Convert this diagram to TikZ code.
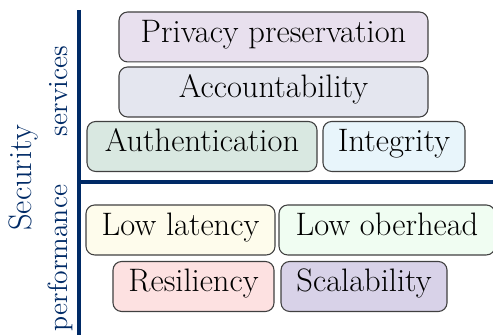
\documentclass[tikz,border=0pt]{standalone}
\definecolor{navy}{RGB}{0,42,102}
\definecolor{privfill}{RGB}{232,224,238}
\definecolor{accfill}{RGB}{228,230,239}
\definecolor{authfill}{RGB}{217,232,225}
\definecolor{intfill}{RGB}{232,245,251}
\definecolor{latfill}{RGB}{254,252,236}
\definecolor{ovfill}{RGB}{240,253,242}
\definecolor{resfill}{RGB}{253,225,225}
\definecolor{scalfill}{RGB}{216,210,232}
\begin{document}
\begin{tikzpicture}[
    item/.style={draw=black!75, line width=0.5pt, rounded corners=4pt, inner sep=0pt,
      minimum height=0.811cm, text height=0.72em, text depth=0.22em,
      font=\fontsize{15}{18}\selectfont},
    axis/.style={draw=navy, line width=1.5pt},
    side/.style={text=navy, rotate=90, inner sep=0pt}
  ]
    \useasboundingbox (0,0) rectangle (8,5.436);
    \node[item, fill=privfill, minimum width=5.014cm] (priv) at (4.438,4.836) {Privacy preservation};
    \node[item, fill=accfill, minimum width=5.014cm] (acc) at (4.438,3.943) {Accountability};
    \node[item, fill=authfill, minimum width=3.732cm] (auth) at (3.278,3.059) {Authentication};
    \node[item, fill=intfill, minimum width=2.304cm] (integ) at (6.393,3.059) {Integrity};
    \node[item, fill=latfill, minimum width=3.067cm] (lat) at (2.929,1.704) {Low latency};
    \node[item, fill=ovfill, minimum width=3.505cm] (over) at (6.280,1.704) {Low oberhead};
    \node[item, fill=resfill, minimum width=2.613cm] (resil) at (3.140,0.787) {Resiliency};
    \node[item, fill=scalfill, minimum width=2.694cm] (scal) at (5.907,0.787) {Scalability};
    \coordinate (top) at (1.282,5.274);
    \coordinate (bot) at (1.282,0);
    \coordinate (mid) at (1.282,2.483);
    \coordinate (right) at (8,2.483);
    \draw[axis] (top) -- (bot);
    \draw[axis] (mid) -- (right);
    \node[side, font=\fontsize{15}{18}\selectfont] (sec) at (0.373,2.548) {Security};
    \node[side, font=\fontsize{12.8}{15}\selectfont] (serv) at (0.957,3.959) {services};
    \node[side, font=\fontsize{12.8}{15}\selectfont] (perf) at (0.974,1.249) {performance};
  \end{tikzpicture}
\end{document}
